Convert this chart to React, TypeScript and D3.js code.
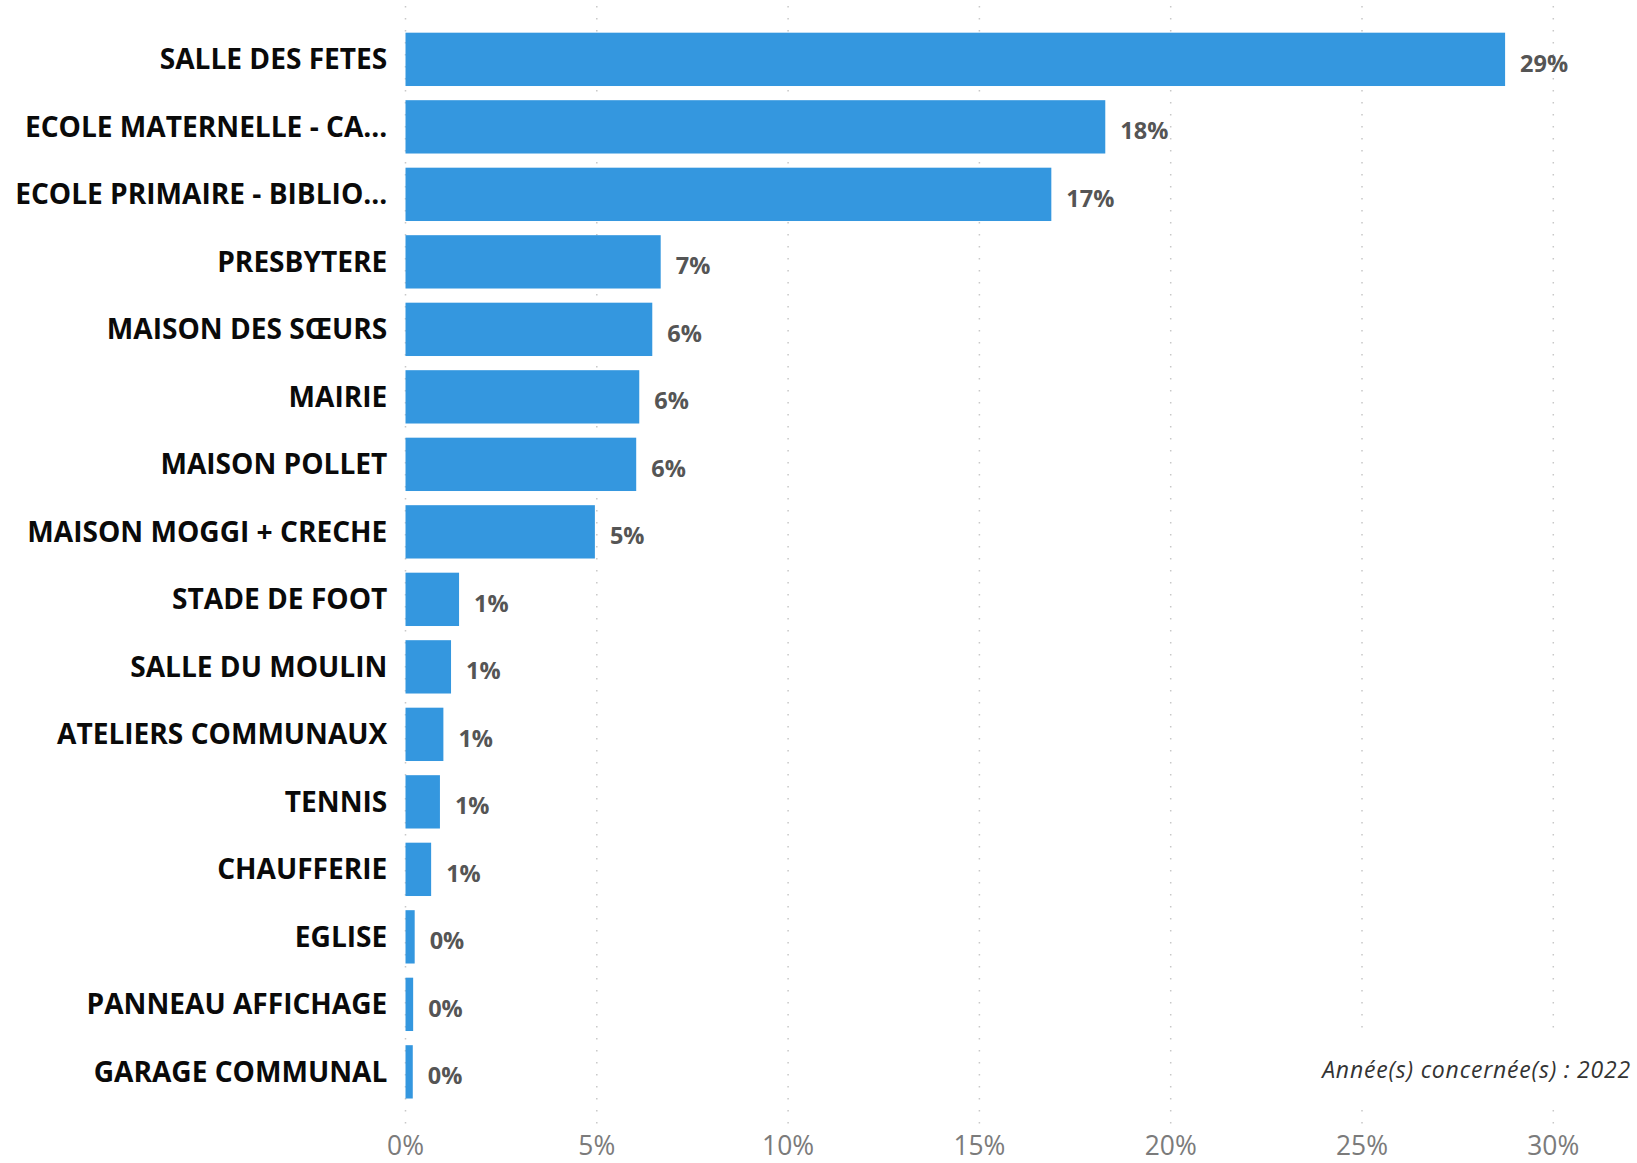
import React, { useEffect } from 'react';
import * as d3 from 'd3';

const categories = [
  'SALLE DES FETES',
  'ECOLE MATERNELLE - CA...',
  'ECOLE PRIMAIRE - BIBLIO...',
  'PRESBYTERE',
  'MAISON DES SŒURS',
  'MAIRIE',
  'MAISON POLLET',
  'MAISON MOGGI + CRECHE',
  'STADE DE FOOT',
  'SALLE DU MOULIN',
  'ATELIERS COMMUNAUX',
  'TENNIS',
  'CHAUFFERIE',
  'EGLISE',
  'PANNEAU AFFICHAGE',
  'GARAGE COMMUNAL',
];

// share of the total, in %
const shares = [28.74, 18.29, 16.88, 6.67, 6.45, 6.11, 6.03, 4.95, 1.4, 1.19, 0.99, 0.9, 0.67, 0.24, 0.2, 0.19];

const xTicks = [0, 5, 10, 15, 20, 25, 30];
const note = 'Année(s) concernée(s) : 2022';

const W = 1637;
const H = 1163;
const barColor = '#3497df';

export default function App() {
  useEffect(() => {
    document.body.style.margin = '0';
  }, []);

  const x = d3.scaleLinear().domain([0, 30]).range([405.5, 1553.3]);
  const y = d3
    .scaleBand<string>()
    .domain(categories)
    .range([25.6, 1105.6])
    .paddingInner(0.21)
    .paddingOuter(0.105);

  const font = '"Open Sans", "DejaVu Sans", sans-serif';

  return (
    <svg width={W} height={H} style={{ display: 'block', background: '#fff' }}>
      {/* dotted vertical grid */}
      <g>
        {xTicks.map(t => (
          <line
            key={t}
            x1={x(t)}
            x2={x(t)}
            y1={6}
            y2={1124}
            stroke="#c8c8c8"
            strokeWidth={1.5}
            strokeDasharray="1.5 10.5"
          />
        ))}
      </g>

      {/* bars */}
      <g>
        {categories.map((c, i) => (
          <rect
            key={c}
            x={x(0)}
            y={y(c)}
            width={x(shares[i]) - x(0)}
            height={y.bandwidth()}
            fill={barColor}
          />
        ))}
      </g>

      {/* category labels */}
      <g fontFamily={font} fontWeight={700} fontSize={28.1} fill="#0a0a0a" textAnchor="end">
        {categories.map(c => (
          <text key={c} x={387.3} y={(y(c) ?? 0) + y.bandwidth() / 2} dy="0.35em">
            {c}
          </text>
        ))}
      </g>

      {/* value labels */}
      <g fontFamily={font} fontWeight={700} fontSize={23.5} fill="#555">
        {categories.map((c, i) => (
          <text key={c} x={x(shares[i]) + 15} y={(y(c) ?? 0) + y.bandwidth() / 2 + 4} dy="0.35em">
            {Math.round(shares[i])}%
          </text>
        ))}
      </g>

      {/* note with white background */}
      <rect x={1312} y={1036} width={325} height={72} fill="#fff" />
      <text
        x={1631}
        y={1078}
        textAnchor="end"
        fontFamily={font}
        fontStyle="italic"
        fontSize={23}
        letterSpacing={0.8}
        fill="#333"
      >
        {note}
      </text>

      {/* x tick labels */}
      <g fontFamily={font} fontSize={26.4} fill="#7b7b7b" textAnchor="middle">
        {xTicks.map(t => (
          <text key={t} x={x(t)} y={1155}>
            {t}%
          </text>
        ))}
      </g>
    </svg>
  );
}
